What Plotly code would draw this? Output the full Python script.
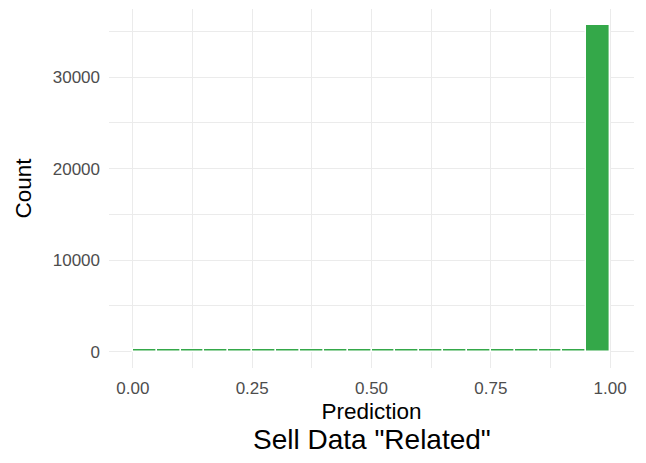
import plotly.graph_objects as go

bin_starts = [0.00, 0.05, 0.10, 0.15, 0.20, 0.25, 0.30, 0.35, 0.40, 0.45,
              0.50, 0.55, 0.60, 0.65, 0.70, 0.75, 0.80, 0.85, 0.90, 0.95]
counts = [340, 280, 270, 270, 270, 280, 280, 320, 280, 270,
          270, 280, 280, 280, 290, 290, 290, 300, 300, 35650]
bin_width = 0.05

centers = [s + bin_width / 2 for s in bin_starts]

fig = go.Figure(go.Bar(
    x=centers, y=counts, width=[bin_width] * len(counts),
    marker=dict(color="#34A849", line=dict(color="white", width=1.4)),
))

grid = "#ebebeb"
# the page body has an 8px default margin, so the figure is sized 8px smaller
fig.update_layout(
    width=638, height=455,
    margin=dict(l=101, r=12, t=1, b=95),
    plot_bgcolor="white", paper_bgcolor="white",
    font=dict(family="Liberation Sans, Arial, sans-serif", color="#000000"),
    showlegend=False,
    bargap=0,
    xaxis=dict(
        range=[-0.05, 1.05], tickvals=[0, 0.25, 0.5, 0.75, 1.0],
        ticktext=["0.00", "0.25", "0.50", "0.75", "1.00"],
        showgrid=True, gridcolor=grid, gridwidth=1.4, zeroline=False,
        minor=dict(tickvals=[0.125, 0.375, 0.625, 0.875], showgrid=True, gridcolor=grid, gridwidth=0.8),
        tickfont=dict(size=17, color="#4d4d4d"), ticks="", ticklabelstandoff=8,
        title=dict(text="Prediction", font=dict(size=22.5, color="#000000"), standoff=6),
    ),
    yaxis=dict(
        range=[-1782, 37432], tickvals=[0, 10000, 20000, 30000],
        ticktext=["0", "10000", "20000", "30000"],
        showgrid=True, gridcolor=grid, gridwidth=1.4, zeroline=False,
        minor=dict(tickvals=[5000, 15000, 25000, 35000], showgrid=True, gridcolor=grid, gridwidth=0.8),
        tickfont=dict(size=17, color="#4d4d4d"), ticks="", ticklabelstandoff=8,
        title=dict(text="Count", font=dict(size=22.5, color="#000000"), standoff=14),
    ),
    annotations=[dict(
        text='Sell Data "Related"', xref="paper", yref="paper",
        x=0.5, y=-0.2, xanchor="center", yanchor="middle", showarrow=False,
        font=dict(size=28, color="#000000"),
    )],
)

fig.write_html("out.html")
